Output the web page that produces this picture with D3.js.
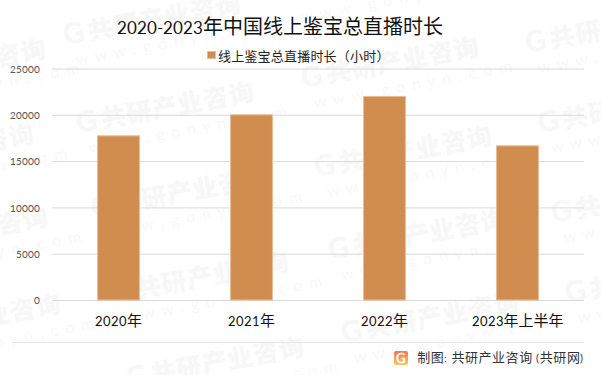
<!DOCTYPE html>
<html>
<head>
<meta charset="utf-8">
<script src="https://cdn.jsdelivr.net/npm/d3@7"></script>
<style>
  @font-face {
    font-family: "LatoSmall";
    src: local("Lato"), local("Lato Regular");
    size-adjust: 87%;
    unicode-range: U+0020-007E;
  }
  html, body { margin: 0; padding: 0; background: #fff; }
  svg { display: block; }
  text { font-family: "LatoSmall", "Noto Sans CJK SC", sans-serif; }
  .watermark text { font-family: Lato, "Noto Sans CJK SC", sans-serif; }
</style>
</head>
<body>
<div id="chart"></div>
<script>
const categories = ['2020年', '2021年', '2022年', '2023年上半年'];
const hours = [17730, 20000, 21980, 16650];
const yTicks = [0, 5000, 10000, 15000, 20000, 25000];
const seriesName = '线上鉴宝总直播时长（小时）';
const titleText = '2020-2023年中国线上鉴宝总直播时长';
const sourceText = '制图: 共研产业咨询 (共研网)';
const markName = '共研产业咨询';
const markUrl = 'w w w . g o n y n . c o m';
// where the repeated watermark starts
const markStarts = [
  [-130, 90], [-142, 175], [-128, 258], [-115, 345],
  [65, 45], [78, 133], [93, 218], [113, 303], [128, 388],
  [290, 2], [303, 88], [316, 177], [330, 260], [343, 343],
  [527, 53], [540, 133], [553, 223], [567, 303]
];

const width = 601;
const height = 375;
const margin = { top: 68.5, right: 17, bottom: 75, left: 52 };
const innerW = width - margin.left - margin.right;
const innerH = height - margin.top - margin.bottom;

const svg = d3.select('#chart').append('svg')
  .attr('width', width)
  .attr('height', height);

// watermark sits under everything else
const wm = svg.append('g').attr('class', 'watermark');
const tile = wm.selectAll('g')
  .data(markStarts)
  .join('g')
  .attr('transform', function (d) { return 'translate(' + d[0] + ',' + d[1] + ') rotate(-10.5)'; });
tile.append('text')
  .attr('x', 0)
  .attr('y', 0)
  .attr('font-size', 29)
  .attr('font-weight', 900)
  .attr('fill', '#f7f7f7')
  .text('G');
tile.append('text')
  .attr('x', 25)
  .attr('y', 0)
  .attr('font-size', 25)
  .attr('font-weight', 900)
  .attr('letter-spacing', 1)
  .attr('fill', '#f7f7f7')
  .text(markName);
tile.append('text')
  .attr('x', 8)
  .attr('y', 22)
  .attr('font-size', 16)
  .attr('letter-spacing', 1.5)
  .attr('fill', '#f8f8f8')
  .text(markUrl);

const x = d3.scaleBand()
  .domain(categories)
  .range([0, innerW])
  .paddingInner(0.685)
  .paddingOuter(0.3425);
const y = d3.scaleLinear()
  .domain([0, 25000])
  .range([innerH, 0]);

const g = svg.append('g')
  .attr('transform', 'translate(' + margin.left + ',' + margin.top + ')');

const yAxis = g.append('g')
  .call(d3.axisLeft(y).tickValues(yTicks).tickSize(-innerW).tickPadding(12).tickFormat(d3.format('d')));
yAxis.select('.domain').remove();
yAxis.selectAll('.tick line').attr('stroke', '#d9d9d9').attr('stroke-width', 1);
yAxis.selectAll('.tick text').attr('fill', '#595959').attr('font-size', 12);

g.selectAll('.bar')
  .data(hours)
  .join('rect')
  .attr('class', 'bar')
  .attr('x', function (_, i) { return x(categories[i]); })
  .attr('y', function (d) { return y(d); })
  .attr('width', x.bandwidth())
  .attr('height', function (d) { return innerH - y(d); })
  .attr('fill', '#d18d50')
  .attr('stroke', '#e8bd97')
  .attr('stroke-width', 1);

const xAxis = g.append('g')
  .attr('transform', 'translate(0,' + innerH + ')')
  .call(d3.axisBottom(x).tickSize(0).tickPadding(15));
xAxis.select('.domain').remove();
xAxis.selectAll('.tick text').attr('fill', '#111').attr('font-size', 15);

svg.append('text')
  .attr('x', 280)
  .attr('y', 34)
  .attr('text-anchor', 'middle')
  .attr('font-size', 20)
  .attr('fill', '#111')
  .text(titleText);

svg.append('rect')
  .attr('x', 207.5)
  .attr('y', 51.5)
  .attr('width', 8)
  .attr('height', 7)
  .attr('fill', '#d18d50')
  .attr('stroke', '#e8bd97');
svg.append('text')
  .attr('x', 218)
  .attr('y', 61)
  .attr('font-size', 13)
  .attr('letter-spacing', 0.2)
  .attr('fill', '#222')
  .text(seriesName);

// footer rule, logo and source
svg.append('line')
  .attr('x1', 12)
  .attr('x2', 584)
  .attr('y1', 342.5)
  .attr('y2', 342.5)
  .attr('stroke', '#e6e6e6');

const grad = svg.append('defs').append('linearGradient')
  .attr('id', 'logo-grad')
  .attr('x1', 0).attr('y1', 0).attr('x2', 0).attr('y2', 1);
grad.append('stop').attr('offset', 0).attr('stop-color', '#f4774a');
grad.append('stop').attr('offset', 1).attr('stop-color', '#fbc765');
svg.append('rect')
  .attr('x', 394)
  .attr('y', 351)
  .attr('width', 14)
  .attr('height', 14)
  .attr('rx', 2)
  .attr('fill', 'url(#logo-grad)');
svg.append('text')
  .attr('x', 401)
  .attr('y', 362.5)
  .attr('text-anchor', 'middle')
  .attr('font-size', 15)
  .attr('font-weight', 900)
  .attr('fill', '#fff')
  .text('G');

svg.append('text')
  .attr('x', 584)
  .attr('y', 362)
  .attr('text-anchor', 'end')
  .attr('font-size', 13)
  .attr('letter-spacing', 0.55)
  .attr('fill', '#333')
  .text(sourceText);
</script>
</body>
</html>
